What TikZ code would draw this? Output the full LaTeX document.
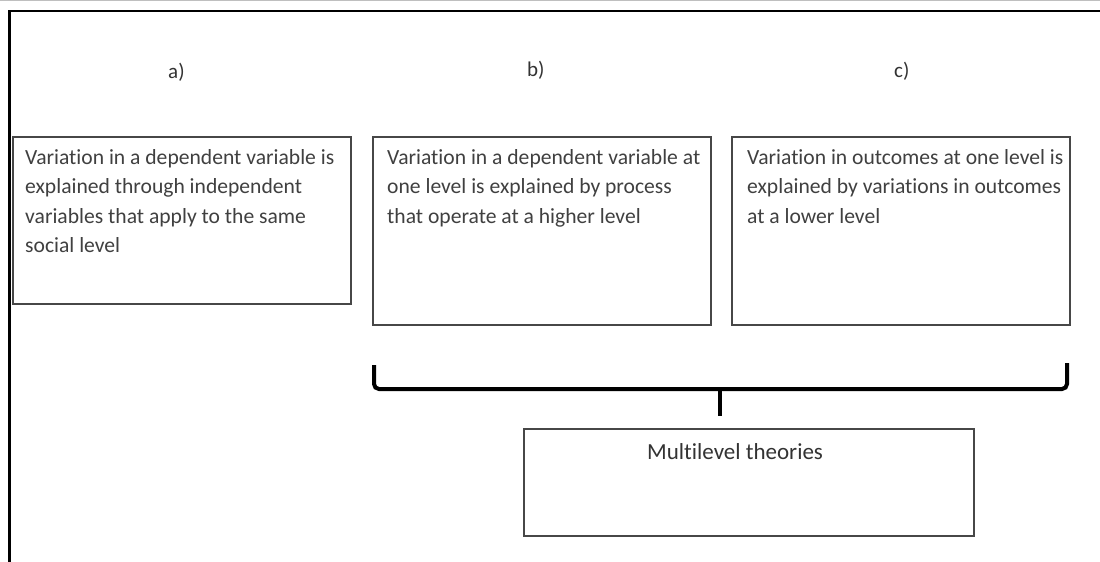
\documentclass[tikz,border=0pt]{standalone}
\usepackage{fontspec}
\setmainfont[Ligatures=NoCommon]{Carlito}
\begin{document}
\begin{tikzpicture}[x=1pt,y=-1pt,
  box/.style={draw=black!72, line width=1.6pt, anchor=north west, inner sep=0pt},
  txt/.style={anchor=north west, inner sep=0pt, align=left, text=black!75,
              font=\fontsize{21.6}{29.5}\selectfont},
  lbl/.style={anchor=base west, inner sep=0pt, text=black!80,
              font=\fontsize{21}{30}\selectfont},
  brace/.style={line width=4pt, rounded corners=5pt}]
\useasboundingbox (0,0) rectangle (1100,562);
\fill[white] (0,0) rectangle (1100,562);
\draw[black!25, line width=1pt] (0,0.5) -- (1100,0.5);
\draw[line width=2.2pt] (1100,11) -- (9.5,11) -- (9.5,562);

\node[lbl] (la) at (168,78) {a)};
\node[lbl] (lb) at (527,76) {b)};
\node[lbl] (lc) at (894,77) {c)};

\node[box, minimum width=338pt, minimum height=167pt] (boxa) at (12,136) {};
\node[box, minimum width=338pt, minimum height=188pt] (boxb) at (372,136) {};
\node[box, minimum width=338pt, minimum height=188pt] (boxc) at (731,136) {};
\node[box, minimum width=450pt, minimum height=107pt] (boxm) at (523,428) {};

\node[txt] (ta) at (25,149) {Variation in a dependent variable is\\explained through independent\\variables that apply to the same\\social level};
\node[txt] (tb) at (387,149) {Variation in a dependent variable at\\one level is explained by process\\that operate at a higher level};
\node[txt] (tc) at (747,149) {Variation in outcomes at one level is\\explained by variations in outcomes\\at a lower level};
\node[anchor=base west, inner sep=0pt, text=black!80, font=\fontsize{23}{30}\selectfont] (tm) at (647,459) {Multilevel theories};

\coordinate (bl) at (374,365);
\coordinate (br) at (1067,363);
\coordinate (bm) at (720,389);
\coordinate (tip) at (720,416);
\draw[brace] (bl) -- (374,389) -- (1067,389) -- (br);
\draw[line width=4pt] (bm) -- (tip);
\end{tikzpicture}
\end{document}
